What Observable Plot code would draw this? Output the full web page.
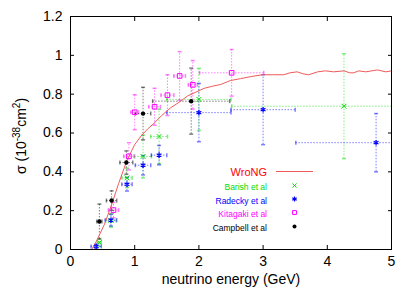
<!DOCTYPE html>
<html><head><meta charset="utf-8">
<script src="https://cdn.jsdelivr.net/npm/d3@7"></script>
<script src="https://cdn.jsdelivr.net/npm/@observablehq/plot@0.6"></script>
<style>body{margin:0;background:#fff} svg{display:block}</style>
</head><body><div id="chart"></div>
<script>
// ---- data ----
const xTicks = [0, 1, 2, 3, 4, 5];
const yTicks = [0, 0.2, 0.4, 0.6, 0.8, 1, 1.2];

const wrongX = [0.33, 0.4, 0.53, 0.65, 0.75, 0.88, 1.0, 1.1, 1.2, 1.3, 1.42, 1.56, 1.7, 1.82, 1.95, 2.08, 2.2, 2.34, 2.49, 2.65, 2.8, 2.99, 3.15, 3.32, 3.42, 3.53, 3.62, 3.71, 3.85, 3.97, 4.1, 4.26, 4.35, 4.41, 4.49, 4.6, 4.78, 4.91, 5.0];
const wrongY = [0, 0.04, 0.13, 0.24, 0.34, 0.46, 0.54, 0.585, 0.62, 0.65, 0.69, 0.73, 0.76, 0.79, 0.81, 0.83, 0.84, 0.85, 0.87, 0.88, 0.89, 0.90, 0.90, 0.90, 0.91, 0.915, 0.905, 0.90, 0.915, 0.92, 0.915, 0.92, 0.91, 0.91, 0.92, 0.915, 0.925, 0.915, 0.92];

const barishX    = [0.45, 0.63, 0.88, 1.13, 1.38, 2.0, 4.26];
const barishY    = [0.036, 0.15, 0.369, 0.479, 0.582, 0.773, 0.738];
const barishXerr = [0.03, 0.08, 0.08, 0.13, 0.13, 0.5, 1.75];
const barishYerr = [0.02, 0.035, 0.05, 0.11, 0.14, 0.16, 0.27];

const radeckyX    = [0.40, 0.63, 0.88, 1.13, 1.38, 2.0, 3.0, 4.76];
const radeckyY    = [0.016, 0.151, 0.336, 0.434, 0.486, 0.705, 0.72, 0.55];
const radeckyXerr = [0.08, 0.09, 0.08, 0.12, 0.12, 0.5, 0.5, 1.25];
const radeckyYerr = [0.01, 0.03, 0.035, 0.05, 0.05, 0.15, 0.18, 0.15];

const kitagakiX    = [0.67, 0.91, 1.0, 1.31, 1.51, 1.70, 1.905, 2.51];
const kitagakiY    = [0.203, 0.48, 0.707, 0.735, 0.795, 0.894, 0.848, 0.91];
const kitagakiXerr = [0.08, 0.08, 0.06, 0.09, 0.1, 0.09, 0.07, 0.5];
const kitagakiYerr = [0.04, 0.07, 0.09, 0.095, 0.105, 0.125, 0.125, 0.12];

const campbellX    = [0.45, 0.64, 0.87, 1.13, 1.88];
const campbellY    = [0.144, 0.252, 0.448, 0.70, 0.764];
const campbellXerr = [0.04, 0.08, 0.10, 0.12, 0.6];
const campbellYerr = [0.09, 0.05, 0.06, 0.135, 0.17];

const seriesNames = ["WroNG", "Barish et al", "Radecky et al", "Kitagaki et al", "Campbell et al"];
const seriesColors = ["#ff0000", "#00dd00", "#0000ff", "#ff00ff", "#000000"];
// --------------------------------------

const wrong = wrongX.map((x, i) => ({x, y: wrongY[i]}));
const mk = (X, Y, XE, YE) => X.map((x, i) => ({x, y: Y[i], xe: XE[i], ye: YE[i]}));
const sets = [
  {data: mk(barishX, barishY, barishXerr, barishYerr), color: seriesColors[1], symbol: "times", r: 2.3, fill: "none", sw: 1},
  {data: mk(radeckyX, radeckyY, radeckyXerr, radeckyYerr), color: seriesColors[2], symbol: "asterisk", r: 2.6, fill: "none", sw: 1.2},
  {data: mk(kitagakiX, kitagakiY, kitagakiXerr, kitagakiYerr), color: seriesColors[3], symbol: "square", r: 2.6, fill: "none", sw: 1},
  {data: mk(campbellX, campbellY, campbellXerr, campbellYerr), color: seriesColors[4], symbol: "circle", r: 2.2, fill: "#000", sw: 0}
];

const hCap = {draw(ctx, size) { const r = Math.sqrt(size / Math.PI); ctx.moveTo(-r, 0); ctx.lineTo(r, 0); }};
const vCap = {draw(ctx, size) { const r = Math.sqrt(size / Math.PI); ctx.moveTo(0, -r); ctx.lineTo(0, r); }};

const marks = [];
for (const s of sets) {
  const eb = {stroke: s.color, strokeOpacity: 0.5, strokeDasharray: "1.5,1.5", strokeWidth: 1, clip: true};
  marks.push(Plot.ruleX(s.data, {x: "x", y1: d => d.y - d.ye, y2: d => d.y + d.ye, ...eb}));
  marks.push(Plot.ruleY(s.data, {y: "y", x1: d => d.x - d.xe, x2: d => d.x + d.xe, ...eb}));
  const cap = {stroke: s.color, strokeOpacity: 0.5, r: 2, clip: true};
  marks.push(Plot.dot(s.data, {x: "x", y: d => d.y - d.ye, symbol: hCap, ...cap}));
  marks.push(Plot.dot(s.data, {x: "x", y: d => d.y + d.ye, symbol: hCap, ...cap}));
  marks.push(Plot.dot(s.data, {x: d => d.x - d.xe, y: "y", symbol: vCap, ...cap}));
  marks.push(Plot.dot(s.data, {x: d => d.x + d.xe, y: "y", symbol: vCap, ...cap}));
}
marks.push(Plot.line(wrong, {x: "x", y: "y", stroke: "#f05a5a", strokeWidth: 1, curve: "linear"}));
for (const s of sets) {
  marks.push(Plot.dot(s.data, {x: "x", y: "y", symbol: s.symbol, r: s.r, stroke: s.sw ? s.color : "none", strokeWidth: s.sw, fill: s.fill}));
}

const chart = Plot.plot({
  width: 415, height: 291,
  marginLeft: 70, marginRight: 24, marginTop: 16, marginBottom: 42,
  style: {fontFamily: "'Liberation Sans', Arial, sans-serif", fontSize: "14px", color: "#000", background: "#fff"},
  x: {domain: [0, 5]},
  y: {domain: [0, 1.2]},
  marks: [
    ...marks,
    Plot.frame({stroke: "#000", strokeWidth: 1}),
    Plot.axisX(xTicks, {anchor: "bottom", tickSize: -4, tickPadding: 11, label: null, tickFormat: d => String(d)}),
    Plot.axisX(xTicks, {anchor: "top", tickSize: -4, label: null, tickFormat: () => ""}),
    Plot.axisY(yTicks, {anchor: "left", tickSize: -4, tickPadding: 12, label: null, tickFormat: d => String(d)}),
    Plot.axisY(yTicks, {anchor: "right", tickSize: -4, label: null, tickFormat: () => ""})
  ]
});
document.getElementById("chart").appendChild(chart);

// axis titles and legend
const svg = d3.select(chart);
const ff = "'Liberation Sans', Arial, sans-serif";
svg.append("text").attr("x", 231).attr("y", 284).attr("text-anchor", "middle")
  .attr("font-family", ff).attr("font-size", 14).text("neutrino energy (GeV)");
const yl = svg.append("text").attr("transform", "translate(26,136) rotate(-90)").attr("text-anchor", "middle")
  .attr("font-family", ff).attr("font-size", 14);
yl.append("tspan").text("σ (10");
yl.append("tspan").attr("font-size", 10).attr("dy", -6).text("-38");
yl.append("tspan").attr("dy", 6).text("cm");
yl.append("tspan").attr("font-size", 10).attr("dy", -6).text("2");
yl.append("tspan").attr("dy", 6).text(")");

const lg = svg.append("g").attr("font-family", ff);
lg.append("text").attr("x", 267).attr("y", 176).attr("text-anchor", "end").attr("font-size", 11)
  .attr("fill", seriesColors[0]).text(seriesNames[0]);
lg.append("line").attr("x1", 276).attr("x2", 313).attr("y1", 171.5).attr("y2", 171.5)
  .attr("stroke", "#f05a5a").attr("stroke-width", 1);
const legY = [187, 200.5, 214, 228];
const legPaths = [
  "M-2,-2L2,2M-2,2L2,-2",
  d3.symbol(d3.symbolAsterisk, 2.4 * 2.4 * Math.PI)(),
  d3.symbol(d3.symbolSquare, 2.2 * 2.2 * Math.PI)(),
  d3.symbol(d3.symbolCircle, 2.0 * 2.0 * Math.PI)()
];
sets.forEach((s, i) => {
  lg.append("text").attr("x", 267).attr("y", legY[i] + 3).attr("text-anchor", "end").attr("font-size", 8.5)
    .attr("fill", s.color).text(seriesNames[i + 1]);
  lg.append("path").attr("transform", `translate(294.5,${legY[i] - 1.5})`)
    .attr("d", legPaths[i])
    .attr("fill", s.fill).attr("stroke", s.sw ? s.color : "none").attr("stroke-width", s.sw);
});
</script>
</body></html>
